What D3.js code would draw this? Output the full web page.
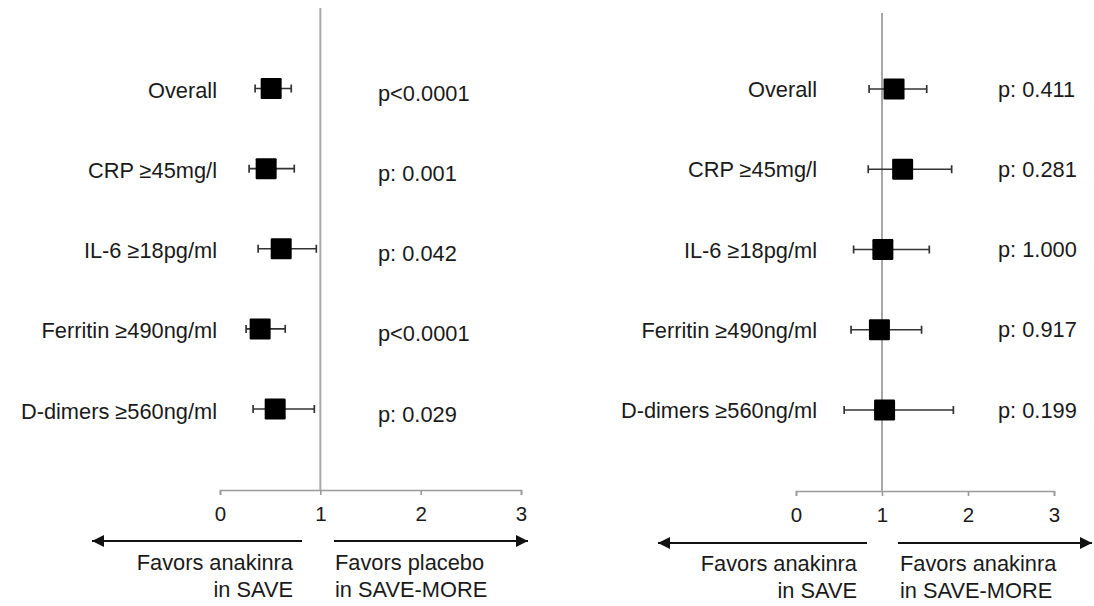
<!DOCTYPE html>
<html><head><meta charset="utf-8">
<script src="https://cdn.jsdelivr.net/npm/d3@7"></script>
<style>
html,body{margin:0;padding:0;background:#fff;}
svg{display:block;font-family:"Liberation Sans",Arial,sans-serif;}
</style></head>
<body><svg id="c" width="1094" height="606"></svg>
<script>
// ---- data ----
const categories = ["Overall", "CRP \u226545mg/l", "IL-6 \u226518pg/ml", "Ferritin \u2265490ng/ml", "D-dimers \u2265560ng/ml"];
const saveEstimate = [0.51, 0.46, 0.61, 0.40, 0.55];
const saveLower    = [0.35, 0.29, 0.38, 0.26, 0.33];
const saveUpper    = [0.71, 0.74, 0.96, 0.65, 0.94];
const savePValues  = ["p<0.0001", "p: 0.001", "p: 0.042", "p<0.0001", "p: 0.029"];
const moreEstimate = [1.14, 1.24, 1.01, 0.97, 1.03];
const moreLower    = [0.85, 0.84, 0.67, 0.64, 0.56];
const moreUpper    = [1.52, 1.81, 1.55, 1.46, 1.83];
const morePValues  = ["p: 0.411", "p: 0.281", "p: 1.000", "p: 0.917", "p: 0.199"];
const tickValues = [0, 1, 2, 3];
const leftCaption  = ["Favors anakinra", "in SAVE"];
const rightCaptionA = ["Favors placebo", "in SAVE-MORE"];
const rightCaptionB = ["Favors anakinra", "in SAVE-MORE"];

const svg = d3.select("#c");
const defs = svg.append("defs");
defs.append("marker").attr("id","ah").attr("viewBox","0 0 10 10")
  .attr("refX",10).attr("refY",5).attr("markerWidth",6.2).attr("markerHeight",6.2)
  .attr("markerUnits","strokeWidth").attr("orient","auto-start-reverse")
  .append("path").attr("d","M0,0L10,5L0,10Z").attr("fill","#111");

const txt = "#1a1a1a";
const fs = 21.8;

function panel(cfg){
  const g = svg.append("g");
  const x = d3.scaleLinear().domain([0,3]).range(cfg.xr);
  const y = d3.scalePoint().domain(categories).range(cfg.yr);

  // axis
  const ax = g.append("g").attr("transform",`translate(0,${cfg.axisY})`)
    .call(d3.axisBottom(x).tickValues(tickValues).tickFormat(d3.format("d"))
      .tickSizeInner(5).tickSizeOuter(5).tickPadding(11));
  ax.select(".domain").attr("stroke","#9a9a9a").attr("stroke-width",1.6);
  ax.selectAll(".tick line").attr("stroke","#9a9a9a").attr("stroke-width",1.6);
  ax.selectAll(".tick text").attr("font-size",20.5).attr("fill",txt)
    .attr("font-family","Liberation Sans, Arial, sans-serif");

  // reference line at 1
  g.append("line").attr("x1",x(1)).attr("x2",x(1)).attr("y1",cfg.lineTop).attr("y2",cfg.axisY)
    .attr("stroke","#a8a8a8").attr("stroke-width",2);

  const rows = categories.map((c,i)=>({c, est:cfg.est[i], lo:cfg.lo[i], hi:cfg.hi[i], p:cfg.p[i]}));
  const r = g.selectAll(".row").data(rows).enter().append("g");
  r.append("line").attr("x1",d=>x(d.lo)).attr("x2",d=>x(d.hi))
    .attr("y1",d=>y(d.c)).attr("y2",d=>y(d.c)).attr("stroke","#333").attr("stroke-width",1.7);
  r.append("line").attr("x1",d=>x(d.lo)).attr("x2",d=>x(d.lo))
    .attr("y1",d=>y(d.c)-4).attr("y2",d=>y(d.c)+4).attr("stroke","#333").attr("stroke-width",1.7);
  r.append("line").attr("x1",d=>x(d.hi)).attr("x2",d=>x(d.hi))
    .attr("y1",d=>y(d.c)-4).attr("y2",d=>y(d.c)+4).attr("stroke","#333").attr("stroke-width",1.7);
  const s = 21;
  r.append("rect").attr("x",d=>x(d.est)-s/2).attr("y",d=>y(d.c)-s/2)
    .attr("width",s).attr("height",s).attr("rx",1.2).attr("fill","#000");
  r.append("text").attr("x",cfg.labelRight).attr("y",d=>y(d.c)+cfg.labOff)
    .attr("text-anchor","end").attr("font-size",fs).attr("fill",txt).text(d=>d.c);
  r.append("text").attr("x",cfg.pX).attr("y",d=>y(d.c)+cfg.pOff)
    .attr("font-size",fs).attr("fill",txt).text(d=>d.p);

  // arrows
  g.append("line").attr("x1",cfg.arrL[1]).attr("x2",cfg.arrL[0]).attr("y1",cfg.arrY).attr("y2",cfg.arrY)
    .attr("stroke","#111").attr("stroke-width",2).attr("marker-end","url(#ah)");
  g.append("line").attr("x1",cfg.arrR[0]).attr("x2",cfg.arrR[1]).attr("y1",cfg.arrY).attr("y2",cfg.arrY)
    .attr("stroke","#111").attr("stroke-width",2).attr("marker-end","url(#ah)");

  cfg.capL.forEach((t,i)=>g.append("text").attr("x",cfg.capLX).attr("y",cfg.capY[i])
    .attr("text-anchor","end").attr("font-size",fs).attr("fill",txt).text(t));
  cfg.capR.forEach((t,i)=>g.append("text").attr("x",cfg.capRX).attr("y",cfg.capY[i])
    .attr("font-size",fs).attr("fill",txt).text(t));
}

panel({xr:[220,521], yr:[88.5,409], axisY:490, lineTop:8,
  est:saveEstimate, lo:saveLower, hi:saveUpper, p:savePValues,
  labelRight:217, labOff:9.5, pX:378, pOff:12.5,
  arrY:541, arrL:[92,302], arrR:[334,528],
  capL:leftCaption, capR:rightCaptionA, capLX:293, capRX:335, capY:[570,597]});

panel({xr:[796,1054], yr:[89,410], axisY:491, lineTop:13,
  est:moreEstimate, lo:moreLower, hi:moreUpper, p:morePValues,
  labelRight:817, labOff:8, pX:998, pOff:7.5,
  arrY:543, arrL:[658,867], arrR:[898,1092],
  capL:leftCaption, capR:rightCaptionB, capLX:857, capRX:900, capY:[571,598]});
</script></body></html>
